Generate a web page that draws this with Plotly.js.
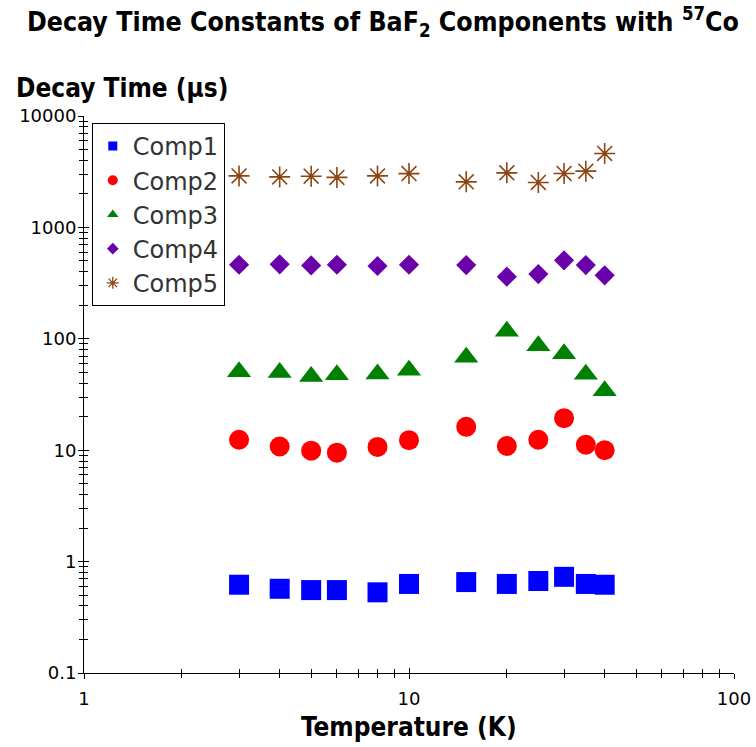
<!DOCTYPE html>
<html>
<head>
<meta charset="utf-8">
<script src="https://cdn.plot.ly/plotly-3.0.1.min.js"></script>
<style>html,body{margin:0;padding:0;background:#fff;}#chart{width:756px;height:747px;}</style>
</head>
<body>
<div id="chart"></div>
<script>
// Temperatures (K)
const temperature = [3, 4, 5, 6, 8, 10, 15, 20, 25, 30, 35, 40];
// Decay time constants (µs)
const comp1 = [0.62, 0.57, 0.555, 0.555, 0.53, 0.63, 0.655, 0.63, 0.67, 0.73, 0.63, 0.62];
const comp2 = [12.4, 10.8, 9.9, 9.5, 10.7, 12.3, 16.2, 10.9, 12.4, 19.4, 11.2, 10.0];
const comp3 = [50.6, 49.9, 45.9, 47.5, 48.3, 52.2, 68.2, 116.8, 86.5, 73.5, 48.1, 34.2];
const comp4 = [462, 466, 456, 462, 450, 462, 459, 361, 381, 506, 459, 371];
const comp5 = [2900, 2840, 2880, 2810, 2900, 3040, 2564, 3089, 2533, 3050, 3199, 4610];

const seriesNames = ['Comp1', 'Comp2', 'Comp3', 'Comp4', 'Comp5'];
const xTickVals = [1, 10, 100];
const xTickText = ['1', '10', '100'];
const yTickVals = [0.1, 1, 10, 100, 1000, 10000];
const yTickText = ['0.1', '1', '10', '100', '1000', '10000'];

const seriesValues = [comp1, comp2, comp3, comp4, comp5];
const styles = [
  {symbol: 'square', color: '#0000FF', size: 20, lsize: 9},
  {symbol: 'circle', color: '#FF0000', size: 20, lsize: 10},
  {symbol: 'triangle-up', color: '#008000', size: 21, lsize: 10},
  {symbol: 'diamond', color: '#6A00AA', size: 15.5, lsize: 9},
  {symbol: 'asterisk-open', color: '#8B4513', size: 17.5, lsize: 10}
];

function minorVals(lo, hi) {
  const v = [];
  for (let d = lo; d < hi; d++) {
    for (let k = 2; k <= 9; k++) v.push(k * Math.pow(10, d));
  }
  return v;
}
const xMinor = minorVals(0, 2);
const yMinor = minorVals(-1, 4);

const traces = [];
seriesValues.forEach((vals, i) => {
  const s = styles[i];
  const mk = {symbol: s.symbol, color: s.color, size: s.size};
  if (s.symbol === 'asterisk-open') mk.line = {color: s.color, width: 1.6};
  else mk.line = {width: 0};
  traces.push({
    type: 'scatter', mode: 'markers', x: temperature, y: vals,
    name: seriesNames[i], showlegend: false, marker: mk, hoverinfo: 'x+y'
  });
});
// star centres (small dot as in the reference)
traces.push({
  type: 'scatter', mode: 'markers', x: temperature, y: comp5,
  showlegend: false, hoverinfo: 'skip',
  marker: {symbol: 'circle', color: '#8B4513', size: 4, line: {width: 0}}
});
// legend entries (small symbols)
seriesNames.forEach((nm, i) => {
  const s = styles[i];
  const mk = {symbol: s.symbol, color: s.color, size: s.lsize};
  if (s.symbol === 'asterisk-open') mk.line = {color: s.color, width: 1.3};
  else mk.line = {width: 0};
  traces.push({
    type: 'scatter', mode: 'markers', x: [null], y: [null],
    xaxis: 'x2', yaxis: 'y2', name: nm, legendgroup: 'g' + i,
    showlegend: true, marker: mk
  });
});

const axisFont = {family: 'DejaVu Sans', size: 18, color: '#000'};
const boldFont = 'DejaVu Sans Condensed, DejaVu Sans';

const layout = {
  width: 756, height: 747,
  margin: {l: 84, r: 22, t: 116, b: 74},
  paper_bgcolor: '#fff', plot_bgcolor: '#fff',
  showlegend: true,
  legend: {
    x: 0.012, y: 0.9875, xanchor: 'left', yanchor: 'top',
    bgcolor: '#fff', bordercolor: '#000', borderwidth: 1,
    font: {family: 'DejaVu Sans', size: 24, color: '#333'},
    itemwidth: 30,
    tracegroupgap: 0
  },
  xaxis: {
    type: 'log', range: [0, 2], showgrid: false, zeroline: false,
    showline: true, linecolor: '#000', linewidth: 1,
    ticks: 'outside', ticklen: 5, tickwidth: 1, tickcolor: '#000',
    tickmode: 'array', tickvals: xTickVals, ticktext: xTickText,
    tickfont: axisFont, ticklabelstandoff: 4,
    minor: {ticks: 'outside', ticklen: 4, tickwidth: 1, tickcolor: '#000', tickmode: 'array', tickvals: xMinor, showgrid: false}
  },
  yaxis: {
    type: 'log', range: [-1, 4], showgrid: false, zeroline: false,
    showline: true, linecolor: '#000', linewidth: 1,
    ticks: 'outside', ticklen: 5, tickwidth: 1, tickcolor: '#000',
    tickmode: 'array', tickvals: yTickVals, ticktext: yTickText,
    tickfont: axisFont, ticklabelstandoff: -2,
    minor: {ticks: 'outside', ticklen: 4, tickwidth: 1, tickcolor: '#000', tickmode: 'array', tickvals: yMinor, showgrid: false}
  },
  xaxis2: {
    type: 'log', range: [0, 2], overlaying: 'x', anchor: 'y', side: 'bottom',
    showgrid: false, zeroline: false, showline: false, showticklabels: false,
    ticks: 'inside', ticklen: 5, tickwidth: 1, tickcolor: '#000',
    tickmode: 'array', tickvals: xTickVals,
    minor: {ticks: 'inside', ticklen: 4, tickwidth: 1, tickcolor: '#000', tickmode: 'array', tickvals: xMinor, showgrid: false}
  },
  yaxis2: {
    type: 'log', range: [-1, 4], overlaying: 'y', anchor: 'x', side: 'left',
    showgrid: false, zeroline: false, showline: false, showticklabels: false,
    ticks: 'inside', ticklen: 5, tickwidth: 1, tickcolor: '#000',
    tickmode: 'array', tickvals: yTickVals,
    minor: {ticks: 'inside', ticklen: 4, tickwidth: 1, tickcolor: '#000', tickmode: 'array', tickvals: yMinor, showgrid: false}
  },
  annotations: [
    {text: '<b>Decay Time Constants of BaF<sub>2</sub> Components with <sup>57</sup>Co</b>',
     xref: 'paper', yref: 'paper', x: 0.4595, y: 1.1687, xanchor: 'center', yanchor: 'middle',
     showarrow: false, font: {family: boldFont, size: 26.5, color: '#000'}},
    {text: '<b>Decay Time (µs)</b>',
     xref: 'paper', yref: 'paper', x: -0.108, y: 1.0502, xanchor: 'left', yanchor: 'middle',
     showarrow: false, font: {family: boldFont, size: 26, color: '#000'}},
    {text: '<b>Temperature (K)</b>',
     xref: 'paper', yref: 'paper', x: 0.4995, y: -0.0964, xanchor: 'center', yanchor: 'middle',
     showarrow: false, font: {family: boldFont, size: 26, color: '#000'}}
  ]
};

Plotly.newPlot('chart', traces, layout, {displayModeBar: false, staticPlot: true});
</script>
</body>
</html>
